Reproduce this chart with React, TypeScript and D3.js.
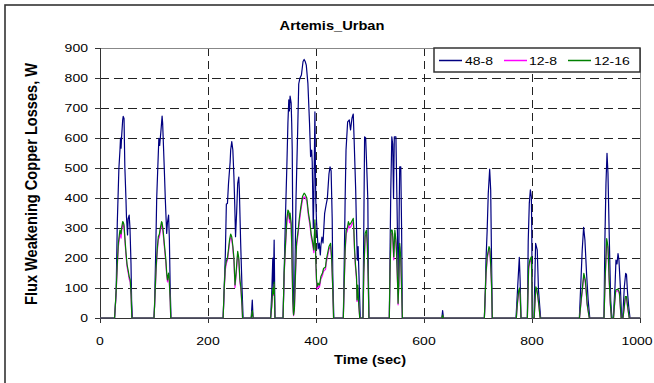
import React from "react";
import * as d3 from "d3";

type Pt = [number, number];

// Time (s) / loss (W) samples for each winding configuration
const seriesNames = ["48-8", "12-8", "12-16"];
const seriesColors = ["#000080", "#ff00ff", "#008000"];
const chartTitle = "Artemis_Urban";
const xTitle = "Time (sec)";
const yTitle = "Flux Weakening Copper Losses, W";
const xTicks = [0, 200, 400, 600, 800, 1000];
const yTicks = [0, 100, 200, 300, 400, 500, 600, 700, 800, 900];

const losses48_8: Pt[] = [
  [0, 0], [27, 0], [29, 60], [30, 93], [32, 316], [35, 499], [37, 560], [38, 600], [39, 566], [40, 604], [42, 660], [43, 672], [44.5, 665], [46, 504], [48, 400], [49, 338], [51, 277], [52, 330], [54, 343], [55.5, 300], [57.4, 182], [58.5, 60], [60, 0],
  [100, 0], [101, 40], [103, 204], [105, 398], [107, 500], [109, 599], [110.5, 575], [113, 627], [115, 673], [116, 650], [117, 600], [119, 500], [121, 393], [123.5, 282], [125, 320], [127, 343], [128.5, 260], [130, 100], [131.5, 0],
  [228, 0], [230, 99], [232, 204], [234, 380], [236, 382], [238, 449], [241, 520], [242, 560], [244, 588], [246, 560], [248, 471], [249.5, 380], [251, 271], [253, 350], [255, 449], [257, 470], [258, 430], [260.5, 249], [263, 100], [265, 0],
  [280, 0], [282, 60], [283.5, 0],
  [316, 0], [318, 80], [320, 200], [321, 100], [322.5, 260], [324, 0],
  [339, 0], [341, 150], [343.6, 349], [346, 504], [348, 650], [349.6, 727], [350.7, 690], [352, 740], [354, 716], [355, 650], [356, 560], [357, 300], [358, 60], [359, 30], [361, 150], [363, 400], [366, 620], [368, 780], [370, 798], [373, 810], [376, 855], [378, 862], [380, 855], [382, 843], [385, 782], [388, 650], [390, 538], [392, 560], [393, 520], [395, 300], [396, 400], [398, 687], [399.5, 400], [401, 320], [403, 260], [404, 230], [406, 250], [408, 210], [409, 240], [411, 270], [413, 250], [416, 349], [419, 380], [421, 398], [424, 480], [426, 504], [428, 490], [430, 330], [431, 150], [433, 0],
  [450.6, 0], [452, 150], [454, 400], [455.6, 560], [458.6, 654], [461.7, 660], [463, 640], [464, 627], [466.6, 666], [469, 680], [470.5, 600], [473.5, 427], [475, 300], [476.5, 193], [478, 238], [480, 116], [482, 0],
  [487, 0], [488.5, 300], [490, 604], [492, 600], [494, 500], [496, 393], [497, 150], [498, 0],
  [535.8, 0], [537, 200], [538.5, 427], [540.4, 604], [542, 580], [543.6, 398], [545, 604], [548, 604], [550, 380], [552, 150], [553, 104], [554, 350], [555, 504], [557, 504], [558.5, 300], [560, 0],
  [633, 0], [634.5, 25], [636, 0],
  [711.8, 0], [713.7, 93], [714.8, 193], [717, 293], [719, 415], [721.6, 496], [723.5, 427], [725, 204], [726.5, 0],
  [770.4, 0], [773.5, 104], [776.5, 202], [778, 127], [779.6, 0],
  [791.4, 0], [793, 255], [795, 382], [797, 427], [798.8, 404], [799.5, 300], [800.6, 0],
  [803.7, 0], [806.7, 249], [809.7, 227], [812, 93], [816, 0],
  [887.7, 0], [890.7, 127], [893, 227], [895.6, 302], [898, 260], [901, 149], [904, 60], [907, 0],
  [933.3, 0], [935, 260], [937, 449], [938.9, 549], [940.7, 482], [943.2, 260], [945.7, 60], [948, 0],
  [950.6, 0], [953.7, 104], [955.5, 193], [957.4, 180], [959.3, 215], [961, 193], [963.6, 104], [966, 0],
  [968, 0], [971, 104], [973.5, 149], [975, 145], [977, 82], [979, 40], [981.5, 0], [1000, 0],
];

const losses12_8: Pt[] = [
  [0, 0], [27, 0], [29, 55], [30, 88], [32, 170], [34, 238], [36, 268], [37, 282], [39, 266], [40, 290], [42, 312], [43, 312], [44.5, 300], [46, 262], [48, 212], [50, 172], [52, 152], [53, 143], [54, 130], [56, 120], [57.5, 75], [59, 0],
  [100, 0], [101, 36], [104, 162], [106, 220], [108, 262], [110, 270], [111, 282], [114, 312], [115, 308], [117, 280], [119, 240], [122, 184], [123.5, 142], [125, 120], [127, 142], [128, 130], [130, 55], [131, 0],
  [228, 0], [230, 92], [232, 160], [234, 182], [236, 192], [238, 220], [240, 252], [242, 270], [244, 262], [246, 232], [248, 190], [250, 102], [252, 142], [254, 190], [255, 212], [257, 192], [259, 122], [261, 94], [263, 36], [264, 0],
  [280, 0], [282, 22], [283.5, 0],
  [316, 0], [318, 36], [320, 94], [321, 75], [322.5, 112], [324, 0],
  [339, 0], [341, 140], [343.6, 240], [346, 318], [348, 348], [349.6, 345], [351, 318], [352, 338], [354, 304], [355, 240], [356, 142], [357, 55], [358, 18], [358.5, 8], [360, 26], [362, 140], [364, 240], [367, 282], [369, 318], [372, 360], [375, 394], [378, 404], [380, 402], [383, 390], [386, 340], [389, 306], [391, 270], [392, 262], [394, 240], [396, 218], [398, 316], [399.5, 192], [401, 118], [402.5, 96], [404, 108], [406, 102], [407, 108], [409, 130], [412, 142], [414, 156], [417.6, 162], [419, 184], [422, 210], [424, 228], [427, 240], [429, 192], [431, 94], [432.5, 0],
  [450.6, 0], [452, 94], [454, 220], [456, 282], [458, 290], [460, 310], [462, 300], [464.5, 304], [467, 314], [469, 322], [470, 290], [471.5, 218], [473, 172], [475, 130], [476, 55], [477.5, 104], [479, 46], [481, 0],
  [487, 0], [488.5, 142], [491, 272], [493.5, 282], [495, 240], [496.5, 142], [498, 0],
  [535.8, 0], [537, 142], [539, 282], [541, 282], [542, 270], [544, 194], [546, 282], [548, 250], [549, 218], [551, 112], [552, 44], [553, 94], [555, 238], [557, 192], [558.5, 94], [560, 0],
  [633, 0], [634.5, 9], [636, 0],
  [711.8, 0], [713, 55], [714.8, 142], [717, 196], [720.4, 230], [722, 222], [723.5, 172], [725, 108], [726.5, 0],
  [771, 0], [773, 46], [775.5, 88], [777, 95], [778, 75], [779.6, 0],
  [791.4, 0], [793.8, 164], [796, 186], [798.8, 196], [799.8, 114], [800.6, 0],
  [804, 0], [807, 98], [809, 90], [811, 66], [813, 35], [815, 0],
  [888, 0], [891, 55], [893, 88], [896, 142], [898.6, 120], [900, 94], [902, 45], [906, 0],
  [933.3, 0], [935.8, 142], [938.3, 255], [940.7, 230], [943, 120], [945, 46], [947, 0],
  [951, 0], [953, 46], [955, 88], [957, 90], [959, 91], [961, 85], [962, 78], [965, 0],
  [968.5, 0], [971, 36], [972.8, 66], [975, 66], [977, 36], [980, 0], [1000, 0],
];

const losses12_16: Pt[] = [
  [0, 0], [27, 0], [29, 60], [30, 93], [32, 180], [34, 249], [36, 280], [37, 293], [39, 280], [40, 300], [42, 321], [43, 320], [44.5, 310], [46, 270], [48, 221], [50, 180], [52, 160], [53, 150], [54, 138], [56, 127], [57.5, 80], [59, 0],
  [100, 0], [101, 40], [104, 171], [106, 230], [108, 271], [110, 280], [111, 293], [114, 321], [115, 318], [117, 290], [119, 250], [122, 193], [123.5, 150], [125, 127], [127, 150], [128, 138], [130, 60], [131, 0],
  [228, 0], [230, 99], [232, 170], [234, 190], [236, 200], [238, 230], [240, 262], [242, 280], [244, 270], [246, 240], [248, 200], [250, 110], [252, 150], [254, 200], [255, 222], [257, 200], [259, 130], [261, 100], [263, 40], [264, 0],
  [280, 0], [282, 25], [283.5, 0],
  [316, 0], [318, 40], [320, 100], [321, 80], [322.5, 120], [324, 0],
  [339, 0], [341, 150], [343.6, 250], [346, 330], [348, 360], [349.6, 355], [351, 330], [352, 350], [354, 316], [355, 250], [356, 150], [357, 60], [358, 20], [358.5, 10], [360, 30], [362, 150], [364, 250], [367, 293], [369, 330], [372, 371], [375, 405], [378, 416], [380, 412], [383, 400], [386, 350], [389, 316], [391, 280], [392, 271], [394, 250], [396, 227], [398, 327], [399.5, 200], [401, 127], [402.5, 105], [404, 116], [406, 110], [407, 116], [409, 138], [412, 150], [414, 165], [417.6, 170], [419, 193], [422, 220], [424, 238], [427, 249], [429, 200], [431, 100], [432.5, 0],
  [450.6, 0], [452, 100], [454, 230], [456, 293], [458, 300], [460, 321], [462, 310], [464.5, 316], [467, 325], [469, 332], [470, 300], [471.5, 227], [473, 180], [475, 138], [476, 60], [477.5, 110], [479, 50], [481, 0],
  [487, 0], [488.5, 150], [491, 282], [493.5, 293], [495, 250], [496.5, 150], [498, 0],
  [535.8, 0], [537, 150], [539, 293], [541, 293], [542, 280], [544, 204], [546, 293], [548, 260], [549, 227], [551, 120], [552, 49], [553, 100], [555, 249], [557, 200], [558.5, 100], [560, 0],
  [633, 0], [634.5, 10], [636, 0],
  [711.8, 0], [713, 60], [714.8, 149], [717, 204], [720.4, 238], [722, 230], [723.5, 180], [725, 115], [726.5, 0],
  [771, 0], [773, 50], [775.5, 93], [777, 100], [778, 80], [779.6, 0],
  [791.4, 0], [793.8, 171], [796, 193], [798.8, 204], [799.8, 120], [800.6, 0],
  [804, 0], [807, 104], [809, 95], [811, 70], [813, 38], [815, 0],
  [888, 0], [891, 60], [893, 93], [896, 149], [898.6, 127], [900, 100], [902, 49], [906, 0],
  [933.3, 0], [935.8, 149], [938.3, 265], [940.7, 238], [943, 127], [945, 50], [947, 0],
  [951, 0], [953, 50], [955, 93], [957, 95], [959, 96], [961, 90], [962, 83], [965, 0],
  [968.5, 0], [971, 40], [972.8, 71], [975, 71], [977, 40], [980, 0], [1000, 0],
];

const allSeries = [losses48_8, losses12_8, losses12_16];

const W = 654;
const H = 383;
const plot = { left: 100, right: 640, top: 48, bottom: 318 };
const FONT = "'Liberation Sans', Arial, sans-serif";
const SX = 1.22; // glyphs are drawn slightly wide

export default function App() {
  const x = d3.scaleLinear().domain([0, 1000]).range([plot.left, plot.right]);
  const y = d3.scaleLinear().domain([0, 900]).range([plot.bottom, plot.top]);
  const line = d3
    .line<Pt>()
    .x((d) => x(d[0]))
    .y((d) => y(d[1]));

  const legendX = 434;
  const legendY = 48;
  const legendItems = [
    { lx: 439, tx: 465 },
    { lx: 504, tx: 529 },
    { lx: 568, tx: 594 },
  ];

  // keep the last tick label inside the drawing
  const xLabelPos = (v: number) => Math.min(x(v), W - 17);

  return (
    <svg
      width={W}
      height={H}
      style={{ position: "absolute", left: 0, top: 0, background: "#fff" }}
      fontFamily={FONT}
    >
      <rect x={0} y={0} width={W} height={H} fill="#fff" />
      {/* outer chart frame */}
      <rect x={5} y={5} width={720} height={420} fill="none" stroke="#333" strokeWidth={1.6} />

      {/* gridlines */}
      {yTicks
        .filter((v) => v > 0 && v < 900)
        .map((v) => (
          <line
            key={"gy" + v}
            x1={plot.left}
            x2={plot.right}
            y1={y(v) + 0.5}
            y2={y(v) + 0.5}
            stroke="#222"
            strokeWidth={1}
            strokeDasharray="9,5"
          />
        ))}
      {xTicks
        .filter((v) => v > 0 && v < 1000)
        .map((v) => (
          <line
            key={"gx" + v}
            x1={x(v) + 0.5}
            x2={x(v) + 0.5}
            y1={plot.top}
            y2={plot.bottom}
            stroke="#222"
            strokeWidth={1}
            strokeDasharray="8,5"
          />
        ))}
      {/* plot area top / right edge */}
      <line x1={plot.left} x2={plot.right} y1={plot.top + 0.5} y2={plot.top + 0.5} stroke="#888" />
      <line x1={plot.right + 0.5} x2={plot.right + 0.5} y1={plot.top} y2={plot.bottom} stroke="#888" />

      {/* axes */}
      <line x1={plot.left + 0.5} x2={plot.left + 0.5} y1={plot.top} y2={plot.bottom} stroke="#333" />
      <line x1={plot.left} x2={plot.right} y1={plot.bottom + 0.5} y2={plot.bottom + 0.5} stroke="#333" />
      {yTicks.map((v) => (
        <g key={"ty" + v}>
          <line x1={plot.left - 5} x2={plot.left} y1={y(v) + 0.5} y2={y(v) + 0.5} stroke="#333" />
          <text
            transform={`translate(${plot.left - 12},${y(v) + 4}) scale(${SX},1)`}
            textAnchor="end"
            fontSize={11.5}
            fill="#000"
          >
            {v}
          </text>
        </g>
      ))}
      {xTicks.map((v) => (
        <g key={"tx" + v}>
          <line x1={x(v) + 0.5} x2={x(v) + 0.5} y1={plot.bottom} y2={plot.bottom + 5} stroke="#333" />
          <text
            transform={`translate(${xLabelPos(v)},${plot.bottom + 27}) scale(${SX},1)`}
            textAnchor="middle"
            fontSize={11.5}
            fill="#000"
          >
            {v}
          </text>
        </g>
      ))}

      {/* series */}
      <defs>
        <clipPath id="plotClip">
          <rect x={plot.left} y={plot.top - 2} width={plot.right - plot.left + 2} height={plot.bottom - plot.top + 4} />
        </clipPath>
      </defs>
      <g clipPath="url(#plotClip)">
        {allSeries.map((s, i) => (
          <path
            key={seriesNames[i]}
            d={line(s) ?? ""}
            fill="none"
            stroke={seriesColors[i]}
            strokeWidth={1.2}
            strokeLinejoin="round"
          />
        ))}
      </g>

      {/* titles */}
      <text
        transform={`translate(332,30) scale(${SX},1)`}
        textAnchor="middle"
        fontSize={12}
        fontWeight="bold"
      >
        {chartTitle}
      </text>
      <text
        transform={`translate(370,364) scale(${SX},1)`}
        textAnchor="middle"
        fontSize={12}
        fontWeight="bold"
      >
        {xTitle}
      </text>
      <text
        transform={`translate(37,184) scale(${SX},1) rotate(-90)`}
        textAnchor="middle"
        fontSize={13}
        fontWeight="bold"
        textLength={242}
        lengthAdjust="spacingAndGlyphs"
      >
        {yTitle}
      </text>

      {/* legend */}
      <rect x={legendX} y={legendY} width={206} height={24} fill="#fff" stroke="#333" strokeWidth={1.5} />
      {legendItems.map((it, i) => (
        <g key={"lg" + i}>
          <line x1={it.lx} x2={it.lx + 23} y1={60.5} y2={60.5} stroke={seriesColors[i]} strokeWidth={1.5} />
          <text
            transform={`translate(${it.tx},64.5) scale(${SX},1)`}
            fontSize={11.5}
          >
            {seriesNames[i]}
          </text>
        </g>
      ))}
    </svg>
  );
}
